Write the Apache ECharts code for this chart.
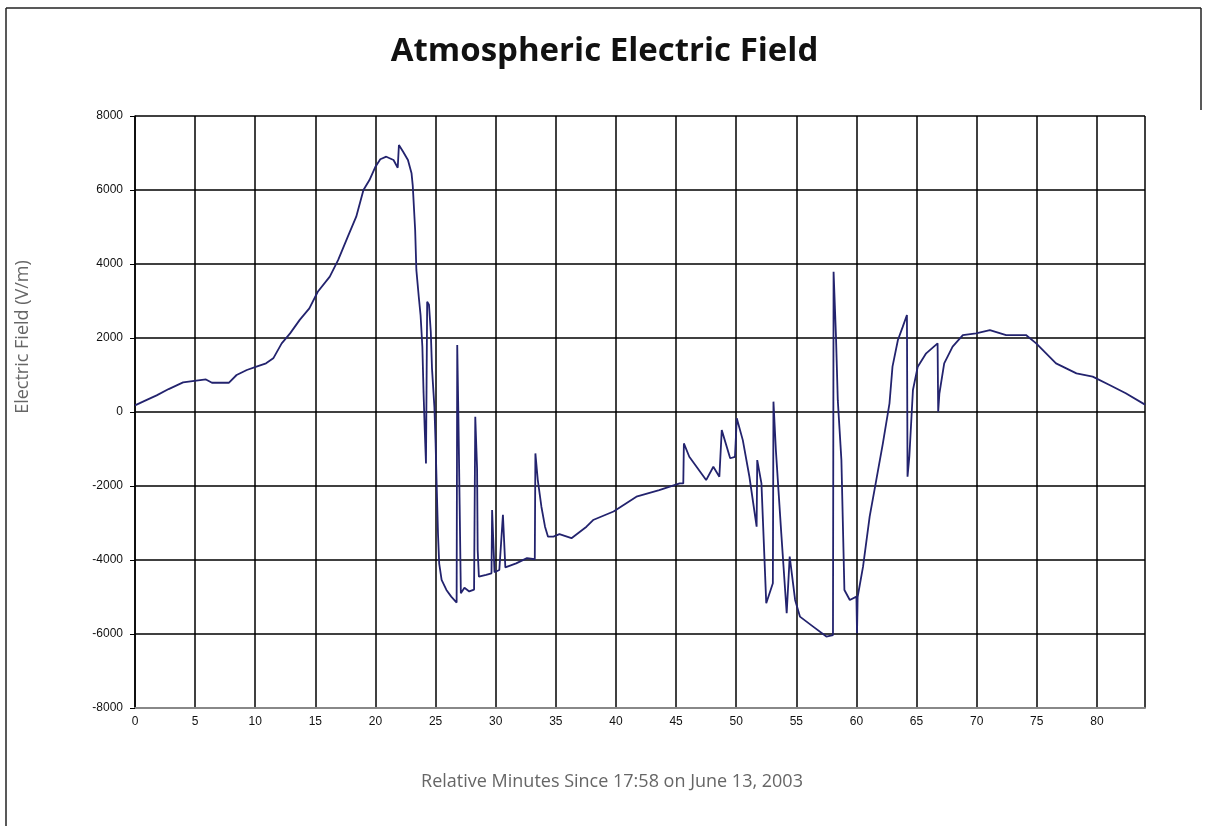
<!DOCTYPE html>
<html>
<head>
<meta charset="utf-8">
<script src="https://cdn.jsdelivr.net/npm/echarts@6/dist/echarts.min.js"></script>
<style>
html,body{margin:0;padding:0;background:#fff;}
#chart{width:1209px;height:826px;}
</style>
</head>
<body>
<div id="chart"></div>
<script>
// Time (relative minutes) and electric field (V/m)
const minutes = [
  0, 0.8, 1.8, 2.8, 4.0, 5.1, 5.9, 6.4, 7.8, 8.45, 9.3, 10.1, 10.9, 11.5, 12.2, 12.9, 13.7, 14.5, 15.2, 16.2,
  16.9, 17.7, 18.4, 19.0, 19.5, 20.0, 20.4, 20.9, 21.5, 21.85, 21.95, 22.3, 22.7, 23.0, 23.1, 23.3, 23.4, 23.6, 23.75, 23.9,
  24.0, 24.1, 24.2, 24.25, 24.3, 24.45, 24.6, 24.7, 24.9, 25.0, 25.1, 25.2, 25.3, 25.5, 25.9, 26.3, 26.75, 26.8, 26.9, 27.0,
  27.1, 27.4, 27.8, 28.2, 28.3, 28.45, 28.5, 28.6, 29.2, 29.65, 29.7, 29.9, 30.3, 30.6, 30.8, 31.7, 32.6, 33.25, 33.3, 33.5,
  33.8, 34.1, 34.35, 34.8, 35.3, 36.3, 37.55, 38.1, 39.8, 41.7, 43.6, 45.3, 45.6, 45.65, 46.1, 47.5, 48.1, 48.6, 48.8, 49.5,
  49.9, 50.05, 50.55, 51.1, 51.7, 51.75, 52.1, 52.5, 53.05, 53.1, 53.3, 53.75, 54.2, 54.45, 54.9, 55.3, 56.4, 57.5, 58.05, 58.1,
  58.3, 58.45, 58.75, 59.0, 59.45, 60.0, 60.05, 60.1, 60.55, 61.1, 61.65, 62.2, 62.75, 63.0, 63.45, 63.85, 64.2, 64.25, 64.4, 64.7,
  65.1, 65.8, 66.75, 66.8, 66.9, 67.3, 68.0, 68.85, 69.95, 71.1, 72.45, 74.1, 74.95, 76.6, 78.3, 79.65, 81.05, 82.4, 84.0
];
const fieldVm = [
  180, 300, 450, 620, 800, 850, 880, 790, 790, 1000, 1135, 1225, 1315, 1450, 1855, 2125, 2490, 2800, 3250, 3660,
  4110, 4740, 5280, 6000, 6270, 6630, 6830, 6900, 6810, 6600, 7215, 7035, 6810, 6450, 6120, 4920, 3840, 3115, 2620, 1765,
  505, -500, -1390, 800, 2980, 2900, 2170, 1180, 140, -850, -2100, -3300, -4100, -4540, -4810, -4990, -5150, 1810, -200, -2500,
  -4900, -4750, -4850, -4800, -130, -1520, -3730, -4450, -4400, -4360, -2650, -4330, -4270, -2780, -4200, -4090, -3950, -3980, -1120, -1840,
  -2560, -3100, -3370, -3370, -3300, -3410, -3100, -2920, -2690, -2290, -2110, -1930, -1930, -850, -1210, -1840, -1480, -1750, -490, -1250,
  -1210, -170, -760, -1750, -3100, -1300, -1930, -5170, -4630, 280, -1030, -3280, -5440, -3910, -5080, -5530, -5800, -6070, -6030, 3790,
  2035, 320, -1300, -4810, -5080, -4990, -5980, -5000, -4180, -2830, -1840, -850, 235, 1225, 1945, 2300, 2620, -1750, -1210, 595,
  1225, 1585, 1855, 10, 500, 1315, 1765, 2080, 2125, 2215, 2080, 2080, 1855, 1315, 1045, 955, 730, 505, 200
];
const titleText = 'Atmospheric Electric Field';
const xAxisTitle = 'Relative Minutes Since 17:58 on June 13, 2003';
const yAxisTitle = 'Electric Field (V/m)';

const seriesData = minutes.map((t, i) => [t, fieldVm[i]]);

const chart = echarts.init(document.getElementById('chart'), null, {renderer: 'canvas'});
chart.setOption({
  animation: false,
  backgroundColor: '#ffffff',
  title: {
    text: titleText,
    left: 'center',
    top: 30,
    textStyle: {fontFamily: 'Open Sans', fontWeight: 'bold', fontSize: 33, color: '#111'}
  },
  grid: {left: 135, right: 64, top: 116, bottom: 118, containLabel: false},
  xAxis: {
    type: 'value', min: 0, max: 84, interval: 5,
    axisLine: {show: true, onZero: false, lineStyle: {color: '#888', width: 2}},
    axisTick: {show: false},
    axisLabel: {showMaxLabel: false, color: '#111', fontFamily: 'Liberation Sans', fontSize: 12, margin: 8},
    splitLine: {show: true, lineStyle: {color: '#000', width: 1.5}}
  },
  yAxis: {
    type: 'value', min: -8000, max: 8000, interval: 2000,
    axisLine: {show: true, lineStyle: {color: '#000', width: 1.5}},
    axisTick: {show: true, length: 5, lineStyle: {color: '#000'}},
    axisLabel: {color: '#111', fontFamily: 'Liberation Sans', fontSize: 12, margin: 12, formatter: v => String(v)},
    splitLine: {show: true, lineStyle: {color: '#000', width: 1.5}}
  },
  graphic: [
    {type: 'text', x: 612, y: 773, style: {text: xAxisTitle, fontFamily: 'Open Sans', fontSize: 18, fill: '#666', textAlign: 'center', textVerticalAlign: 'top'}},
    {type: 'text', x: 14, y: 337, rotation: Math.PI / 2, style: {text: yAxisTitle, fontFamily: 'Open Sans', fontSize: 18, fill: '#666', textAlign: 'center', textVerticalAlign: 'top'}},
    {type: 'line', shape: {x1: 6, y1: 8, x2: 1201, y2: 8}, style: {stroke: '#222', lineWidth: 1.5}},
    {type: 'line', shape: {x1: 6, y1: 8, x2: 6, y2: 826}, style: {stroke: '#222', lineWidth: 1.5}},
    {type: 'line', shape: {x1: 1201, y1: 8, x2: 1201, y2: 110}, style: {stroke: '#222', lineWidth: 1.5}}
  ],
  series: [{
    type: 'line',
    data: seriesData,
    showSymbol: false,
    symbol: 'none',
    lineStyle: {color: '#23236e', width: 1.8},
    clip: true
  }]
});
</script>
</body>
</html>
